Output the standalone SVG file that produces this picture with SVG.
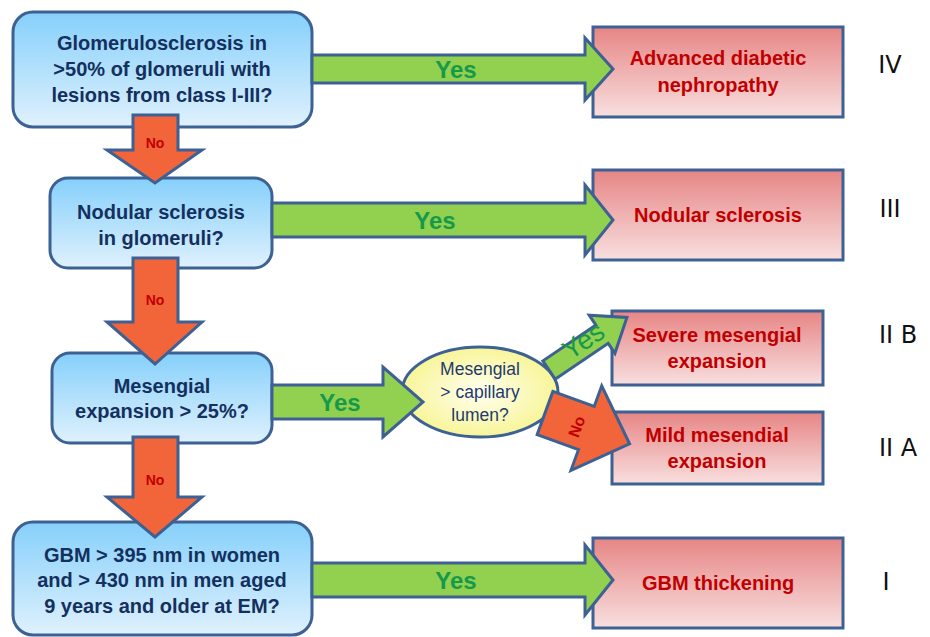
<svg xmlns="http://www.w3.org/2000/svg" width="930" height="637" viewBox="0 0 930 637">
<defs>
<linearGradient id="gBlue" x1="0" y1="0" x2="0" y2="1"><stop offset="0" stop-color="#86d0fb"/><stop offset="1" stop-color="#dff1fd"/></linearGradient>
<linearGradient id="gRed" x1="0" y1="0" x2="0" y2="1"><stop offset="0" stop-color="#e78585"/><stop offset="1" stop-color="#f8dfdf"/></linearGradient>
<radialGradient id="gYel" cx="0.5" cy="0.5" r="0.5"><stop offset="0" stop-color="#fffff0"/><stop offset="1" stop-color="#f8f598"/></radialGradient>
<style>
.q{fill:url(#gBlue);stroke:#3d6193;stroke-width:3}
.r{fill:url(#gRed);stroke:#3d6193;stroke-width:3}
.qt{font-family:"Liberation Sans",Arial,sans-serif;font-weight:bold;font-size:20px;fill:#14305e;text-anchor:middle}
.rt{font-family:"Liberation Sans",Arial,sans-serif;font-weight:bold;font-size:20px;fill:#c00000;text-anchor:middle}
.num{font-family:"DejaVu Sans","Liberation Sans",sans-serif;font-size:24px;fill:#111;text-anchor:middle}
.ga{fill:#92d050;stroke:#3d6193;stroke-width:3;stroke-linejoin:miter}
.ra{fill:#f2643a;stroke:#3d6193;stroke-width:3;stroke-linejoin:miter}
.yes{font-family:"Liberation Sans",Arial,sans-serif;font-weight:bold;font-size:24px;fill:#17994a;text-anchor:middle}
.no{font-family:"Liberation Sans",Arial,sans-serif;font-weight:bold;font-size:14px;fill:#c00000;text-anchor:middle}
.et{font-family:"Liberation Sans",Arial,sans-serif;font-size:17.5px;fill:#1f3a6e;text-anchor:middle}
</style>
</defs>
<rect width="930" height="637" fill="#ffffff"/>

<g id="q1"><rect class="q" x="13" y="12" width="299" height="115" rx="20"/>
<text class="qt" x="162" y="50">Glomerulosclerosis in</text>
<text class="qt" x="162" y="76">&gt;50% of glomeruli with</text>
<text class="qt" x="162" y="102">lesions from class I-III?</text></g>

<g id="q2"><rect class="q" x="50" y="178" width="222" height="90" rx="18"/>
<text class="qt" x="161" y="219">Nodular sclerosis</text>
<text class="qt" x="161" y="245">in glomeruli?</text></g>

<g id="q3"><rect class="q" x="52" y="353" width="220" height="90" rx="18"/>
<text class="qt" x="162" y="393">Mesengial</text>
<text class="qt" x="162" y="418">expansion &gt; 25%?</text></g>

<g id="q4"><rect class="q" x="13" y="522" width="299" height="113" rx="20"/>
<text class="qt" x="162" y="562">GBM &gt; 395 nm in women</text>
<text class="qt" x="162" y="587">and &gt; 430 nm in men aged</text>
<text class="qt" x="162" y="613">9 years and older at EM?</text></g>

<g id="q5"><ellipse cx="480" cy="392" rx="78" ry="45" fill="url(#gYel)" stroke="#3d6193" stroke-width="3"/>
<text class="et" x="480" y="375">Mesengial</text>
<text class="et" x="480" y="398">&gt; capillary</text>
<text class="et" x="480" y="421">lumen?</text></g>

<g id="r4"><rect class="r" x="593" y="27" width="250" height="90"/>
<text class="rt" x="718" y="65">Advanced diabetic</text>
<text class="rt" x="718" y="92">nephropathy</text></g>

<g id="r3"><rect class="r" x="593" y="170" width="250" height="90"/>
<text class="rt" x="718" y="222">Nodular sclerosis</text></g>

<g id="r2b"><rect class="r" x="612" y="311" width="211" height="74"/>
<text class="rt" x="717" y="342">Severe mesengial</text>
<text class="rt" x="717" y="368">expansion</text></g>

<g id="r2a"><rect class="r" x="612" y="412" width="211" height="72"/>
<text class="rt" x="717" y="442">Mild mesendial</text>
<text class="rt" x="717" y="468">expansion</text></g>

<g id="r1"><rect class="r" x="593" y="538" width="250" height="90"/>
<text class="rt" x="718" y="590">GBM thickening</text></g>

<g id="classes">
<text class="num" x="890" y="73">IV</text>
<text class="num" x="890" y="217">III</text>
<text class="num" x="898" y="343">II B</text>
<text class="num" x="898" y="456">II A</text>
<text class="num" x="886" y="590">I</text>
</g>

<g id="connectors">
<polygon class="ga" points="312,55 585,55 585,38 613,69 585,100 585,83 312,83"/>
<text class="yes" x="456" y="78">Yes</text>
<polygon class="ga" points="272,203 585,203 585,185 613,220 585,255 585,237 272,237"/>
<text class="yes" x="435" y="229">Yes</text>
<polygon class="ga" points="272,385 383,385 383,367 423,402 383,437 383,419 272,419"/>
<text class="yes" x="340" y="411">Yes</text>
<polygon class="ga" points="312,563 585,563 585,545 613,580 585,615 585,597 312,597"/>
<text class="yes" x="456" y="589">Yes</text>

<g transform="translate(549,370) rotate(-34)">
<polygon class="ga" points="0,-11 64,-11 64,-23 94,0 64,23 64,11 0,11"/>
<text class="yes" x="45" y="4" style="font-weight:normal;font-size:27px">Yes</text>
</g>
<g transform="translate(545,413) rotate(20)">
<polygon class="ra" points="0,-23 44,-23 44,-45 90,0 44,45 44,23 0,23"/>
<text class="no" x="0" y="0" transform="translate(35,2) rotate(-90)" dy="5" style="font-size:16px">No</text>
</g>

<polygon class="ra" points="133,115 178,115 178,150 202,150 155,183 107,150 133,150"/>
<text class="no" x="155" y="148">No</text>
<polygon class="ra" points="133,258 178,258 178,322 202,322 155,364 107,322 133,322"/>
<text class="no" x="155" y="305">No</text>
<polygon class="ra" points="133,437 178,437 178,497 202,497 155,537 107,497 133,497"/>
<text class="no" x="155" y="485">No</text>
</g>
</svg>
